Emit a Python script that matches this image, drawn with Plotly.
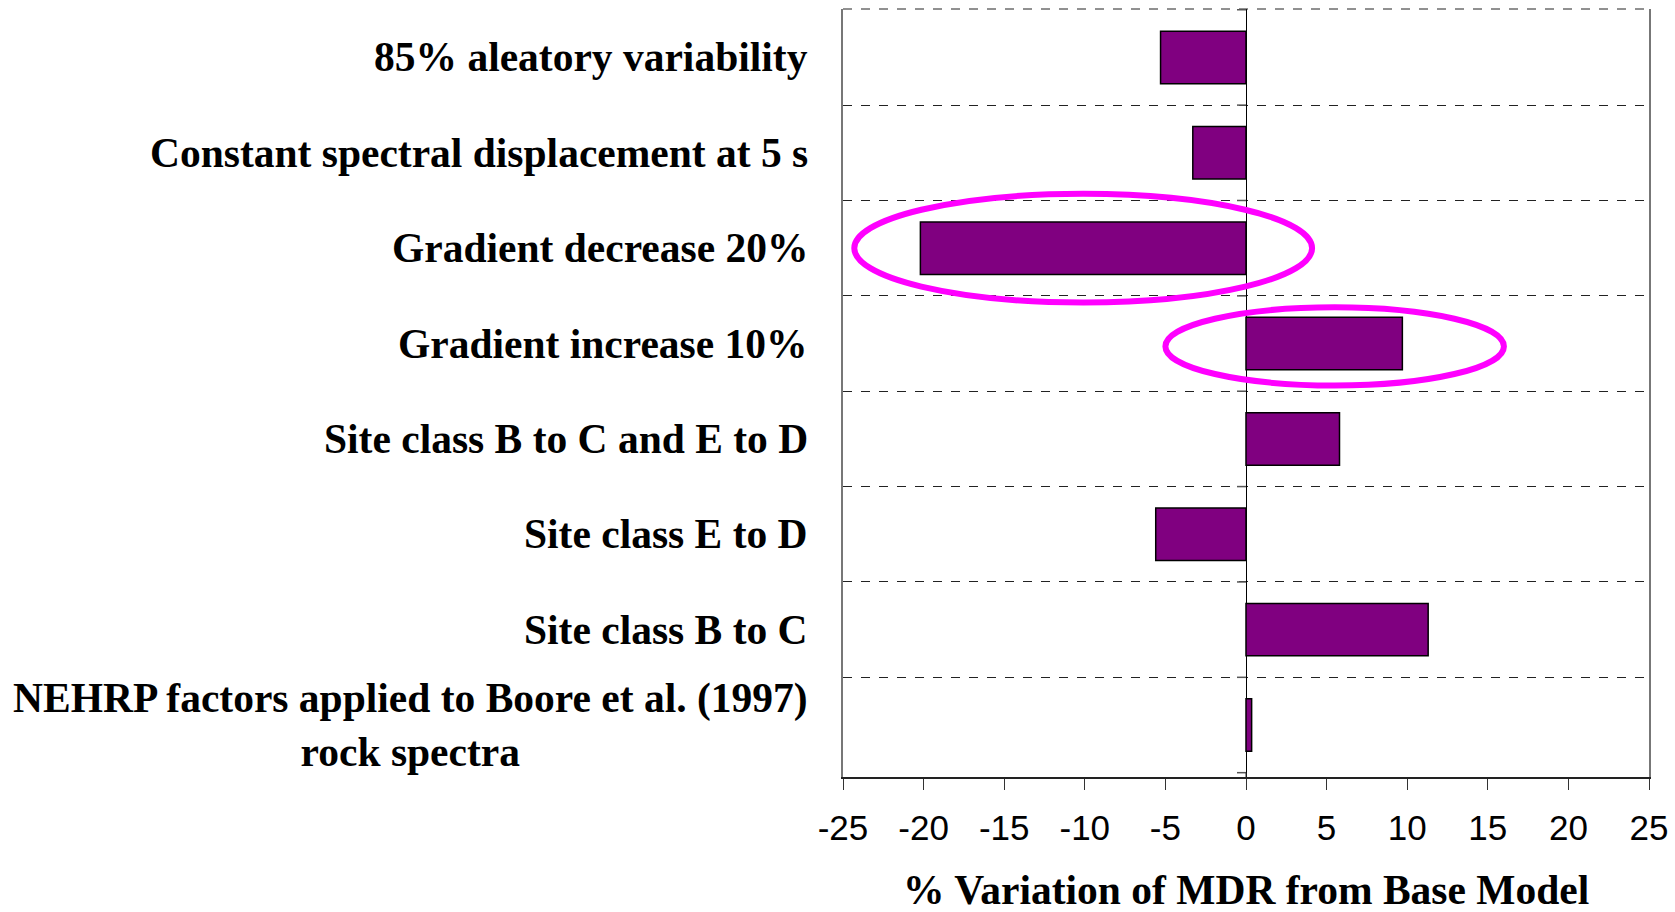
import plotly.graph_objects as go

categories = [
    "85% aleatory variability",
    "Constant spectral displacement at 5 s",
    "Gradient decrease 20%",
    "Gradient increase 10%",
    "Site class B to C and E to D",
    "Site class E to D",
    "Site class B to C",
    "NEHRP factors applied to Boore et al. (1997)<br>rock spectra",
]
values = [-5.3, -3.3, -20.2, 9.7, 5.8, -5.6, 11.3, 0.35]
x_ticks = [-25, -20, -15, -10, -5, 0, 5, 10, 15, 20, 25]
x_title = "% Variation of MDR from Base Model"

fig = go.Figure()
fig.add_trace(go.Bar(
    x=values, y=categories, orientation="h",
    marker=dict(color="#800080", line=dict(color="black", width=1.5)),
    width=0.55,
))

# category labels as annotations (centered multi-line)
for c in categories:
    fig.add_annotation(
        x=-0.041, xref="paper", y=c, yref="y", text=c, showarrow=False,
        xanchor="right", yanchor="middle", align="center",
        font=dict(family="Liberation Serif", size=41.5, color="black", weight="bold"),
    )

# x-axis title
fig.add_annotation(
    x=0.5, xref="paper", y=0, yref="paper", yanchor="middle", yshift=-113,
    text=x_title, showarrow=False, borderpad=0,
    font=dict(family="Liberation Serif", size=41.5, color="black", weight="bold"),
)

# top dashed border
fig.add_shape(type="line", xref="paper", yref="paper", x0=0, x1=1, y0=1, y1=1,
              line=dict(color="#222", width=1, dash="dash"))

# small y-axis tick marks at the zero crossing (category boundaries)
n = len(categories)
for i in range(n + 1):
    fig.add_shape(type="line", xref="x", yref="y", xsizemode="pixel", xanchor=0,
                  x0=-9, x1=0, y0=i - 0.5, y1=i - 0.5,
                  line=dict(color="#555", width=1.5))
fig.add_shape(type="line", xref="x", yref="y", ysizemode="pixel", yanchor=n - 0.5,
              x0=0, x1=0, y0=0, y1=-11, line=dict(color="#333", width=1))

# highlight ellipses
fig.add_shape(type="circle", xref="x", yref="y", x0=-24.3, x1=4.1, y0=1.43, y1=2.57,
              line=dict(color="#FF00FF", width=6))
fig.add_shape(type="circle", xref="x", yref="y", x0=-5.0, x1=16.0, y0=2.62, y1=3.44,
              line=dict(color="#FF00FF", width=6))

fig.update_layout(
    width=1675, height=912,
    margin=dict(l=843, r=26, t=9, b=135, autoexpand=False),
    paper_bgcolor="white", plot_bgcolor="white",
    showlegend=False, bargap=0.45,
    xaxis=dict(
        range=[-25, 25], tickvals=x_ticks, ticktext=[str(t) for t in x_ticks],
        automargin=False,
        showgrid=False, zeroline=True, zerolinecolor="black", zerolinewidth=1,
        showline=True, linecolor="#222", linewidth=1.5,
        ticks="outside", ticklen=11, tickcolor="#333", tickwidth=1,
        ticklabelstandoff=8,
        tickfont=dict(family="Liberation Sans", size=35, color="black"),
    ),
    yaxis=dict(
        type="category", categoryorder="array", categoryarray=categories,
        autorange="reversed", tickson="boundaries", showticklabels=False,
        automargin=False,
        showgrid=True, gridcolor="#222", gridwidth=1, griddash="dash",
        showline=True, mirror=True, linecolor="#777", linewidth=1.5, ticks="",
    ),
)

fig.write_html("out.html", config={"displayModeBar": False},
               post_script="document.body.style.margin='0';")
